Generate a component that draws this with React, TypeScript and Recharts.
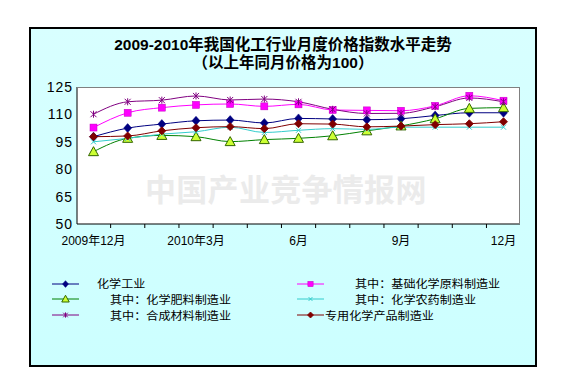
import React from 'react';
import { LineChart, Line, XAxis, YAxis, CartesianGrid } from 'recharts';

const categories = ['2009-12', '2010-01', '2010-02', '2010-03', '2010-04', '2010-05', '2010-06', '2010-07', '2010-08', '2010-09', '2010-10', '2010-11', '2010-12'];
const xTickLabels = ['2009年12月', '', '', '2010年3月', '', '', '6月', '', '', '9月', '', '', '12月'];
const yTicks = [50, 65, 80, 95, 110, 125];

const chemIndustry = [97.8, 102.5, 104.7, 106.5, 106.9, 105.3, 107.8, 107.5, 107.1, 107.6, 109.4, 110.9, 110.9];
const basicChem = [102.8, 110.9, 113.7, 115.2, 115.7, 114.4, 115.5, 112.4, 112.2, 112.0, 114.7, 120.2, 117.5];
const fertilizer = [89.6, 96.9, 98.5, 97.8, 95.1, 96.2, 96.9, 98.3, 101.0, 103.7, 107.6, 113.3, 113.7];
const pesticide = [95.0, 96.9, 99.2, 100.5, 103.0, 100.1, 101.3, 102.2, 101.8, 103.0, 103.0, 103.0, 103.0];
const syntheticMat = [110.1, 116.9, 117.8, 120.1, 117.9, 118.4, 116.9, 112.8, 110.5, 110.6, 114.2, 119.0, 116.9];
const specialChem = [97.8, 98.2, 101.0, 102.7, 103.3, 102.2, 104.9, 104.7, 103.2, 103.6, 104.4, 104.9, 106.0];

const seriesNames = ['化学工业', '其中：基础化学原料制造业', '其中：化学肥料制造业', '其中：化学农药制造业', '其中：合成材料制造业', '专用化学产品制造业'];
const seriesValues = [chemIndustry, basicChem, fertilizer, pesticide, syntheticMat, specialChem];

const data = categories.map((c, i) => {
  const row: any = { cat: c };
  seriesValues.forEach((arr, k) => { row['s' + k] = arr[i]; });
  return row;
});

const styles = [
  { color: '#000080', shape: 'diamond' },
  { color: '#FF00FF', shape: 'square' },
  { color: '#008000', shape: 'triangle' },
  { color: '#33CCCC', shape: 'x' },
  { color: '#800080', shape: 'star' },
  { color: '#800000', shape: 'diamond2' },
];

const Marker = ({ cx, cy, shape, color, s = 1 }: any) => {
  if (cx == null || cy == null) return <g />;
  switch (shape) {
    case 'diamond':
      return <polygon points={`${cx},${cy - 4.5 * s} ${cx + 4 * s},${cy} ${cx},${cy + 4.5 * s} ${cx - 4 * s},${cy}`} fill={color} stroke={color} strokeWidth={0.5} />;
    case 'diamond2':
      return <polygon points={`${cx},${cy - 4 * s} ${cx + 4 * s},${cy} ${cx},${cy + 4 * s} ${cx - 4 * s},${cy}`} fill={color} stroke={color} strokeWidth={0.8} strokeLinejoin="round" />;
    case 'square':
      return <rect x={cx - 3.5 * s} y={cy - 3.5 * s} width={7 * s} height={7 * s} fill={color} stroke="#c000c0" strokeWidth={0.5} />;
    case 'triangle':
      return <polygon points={`${cx},${cy - 5 * s} ${cx + 5 * s},${cy + 4 * s} ${cx - 5 * s},${cy + 4 * s}`} fill="#CCFF33" stroke="#336600" strokeWidth={1} />;
    case 'x':
      return (
        <g stroke={color} strokeWidth={1}>
          <line x1={cx - 2.5 * s} y1={cy - 2.5 * s} x2={cx + 2.5 * s} y2={cy + 2.5 * s} />
          <line x1={cx - 2.5 * s} y1={cy + 2.5 * s} x2={cx + 2.5 * s} y2={cy - 2.5 * s} />
        </g>
      );
    case 'star':
      return (
        <g stroke={color} strokeWidth={1}>
          <line x1={cx - 3 * s} y1={cy - 3 * s} x2={cx + 3 * s} y2={cy + 3 * s} />
          <line x1={cx - 3 * s} y1={cy + 3 * s} x2={cx + 3 * s} y2={cy - 3 * s} />
          <line x1={cx} y1={cy - 3.5 * s} x2={cx} y2={cy + 3.5 * s} />
        </g>
      );
    default:
      return <g />;
  }
};

const BAND = 443 / 13;
const X_MARGIN = 12;

const XTick = (props: any) => {
  const { x, y, index } = props;
  const label = xTickLabels[index] || '';
  const axisY = y - X_MARGIN;
  return (
    <g>
      {index > 0 && <line x1={x - BAND / 2} x2={x - BAND / 2} y1={axisY} y2={axisY + 4} stroke="#000" />}
      <text x={x} y={y} dy="0.71em" textAnchor="middle" fontSize={12} fill="#000" fontFamily='"Liberation Sans", "Noto Sans CJK SC", sans-serif'>{label}</text>
    </g>
  );
};

const YTick = (props: any) => {
  const { x, y, payload } = props;
  return (
    <text x={x} y={y} dy="0.355em" textAnchor="end" fontSize={14} letterSpacing={1} fill="#000" fontFamily='"Liberation Sans", sans-serif'>{payload.value}</text>
  );
};

const legendLayout = [
  { lx: 52, tx: 97, ly: 284, ty: 282.5 },
  { lx: 297, tx: 355, ly: 284, ty: 282.5 },
  { lx: 52, tx: 110, ly: 299, ty: 298.5 },
  { lx: 297, tx: 355, ly: 299, ty: 298.5 },
  { lx: 52, tx: 110, ly: 315, ty: 314.5 },
  { lx: 297, tx: 325, ly: 315, ty: 314.5 },
];

export default function App() {
  return (
    <div style={{ position: 'absolute', left: 0, top: 0, width: 573, height: 380, background: '#fff', overflow: 'hidden', fontFamily: '"Noto Sans CJK SC", sans-serif' }}>
      <div style={{ position: 'absolute', left: 29, top: 27, width: 508, height: 340, boxSizing: 'border-box', border: '2px solid #000', background: 'linear-gradient(#d8ffff, #ccffff)' }} />
      <div style={{ position: 'absolute', left: 29, top: 36, width: 508, textAlign: 'center', fontSize: 15.5, fontWeight: 'bold', lineHeight: '18px', color: '#000', fontFamily: '"Liberation Sans", "Noto Sans CJK SC", sans-serif' }}>
        <div>2009-2010年我国化工行业月度价格指数水平走势</div>
        <div>（以上年同月价格为100）</div>
      </div>
      <div style={{ position: 'absolute', left: 0, top: 0 }}>
        <LineChart width={573} height={380} data={data} margin={{ top: 87, right: 53, bottom: 126, left: 37 }}>
          <CartesianGrid horizontal={false} vertical={false} fill="#ffffff" />
          <XAxis dataKey="cat" interval={0} tick={<XTick />} tickLine={false} tickSize={0} tickMargin={X_MARGIN} height={30} padding={{ left: 16.5, right: 16.5 }} axisLine={{ stroke: '#000' }} />
          <YAxis domain={[50, 125]} ticks={yTicks} type="number" width={40} tick={<YTick />} tickLine={false} tickSize={3} tickMargin={1} axisLine={{ stroke: '#000' }} allowDataOverflow />
          {styles.map((s, k) => (
            <Line
              key={k}
              dataKey={'s' + k}
              name={seriesNames[k]}
              type="monotone"
              stroke={s.color}
              strokeWidth={1}
              isAnimationActive={false}
              activeDot={false}
              dot={(p: any) => <Marker key={`m${k}-${p.index}`} cx={p.cx} cy={p.cy} shape={s.shape} color={s.color} />}
            />
          ))}
        </LineChart>
      </div>
      <div style={{ position: 'absolute', left: 145, top: 172, fontSize: 31, lineHeight: '32px', fontWeight: 'bold', color: '#ebebeb', whiteSpace: 'nowrap', letterSpacing: 0.3, pointerEvents: 'none' }}>中国产业竞争情报网</div>
      <div style={{ position: 'absolute', left: 77, top: 87, width: 443, height: 137, boxSizing: 'border-box', borderTop: '1px solid #808080', borderRight: '1px solid #808080', pointerEvents: 'none' }} />
      {styles.map((s, k) => {
        const L = legendLayout[k];
        return (
          <React.Fragment key={k}>
            <svg style={{ position: 'absolute', left: L.lx, top: L.ly - 6 }} width={27} height={12}>
              <line x1={0} y1={6} x2={27} y2={6} stroke={s.color} strokeWidth={1} />
              <Marker cx={13.5} cy={6} shape={s.shape} color={s.color} s={0.75} />
            </svg>
            <div style={{ position: 'absolute', left: L.tx, top: L.ty - 8, fontSize: 11, lineHeight: '16px', color: '#000', whiteSpace: 'nowrap', transform: 'scaleX(1.1)', transformOrigin: 'left center' }}>{seriesNames[k]}</div>
          </React.Fragment>
        );
      })}
    </div>
  );
}
